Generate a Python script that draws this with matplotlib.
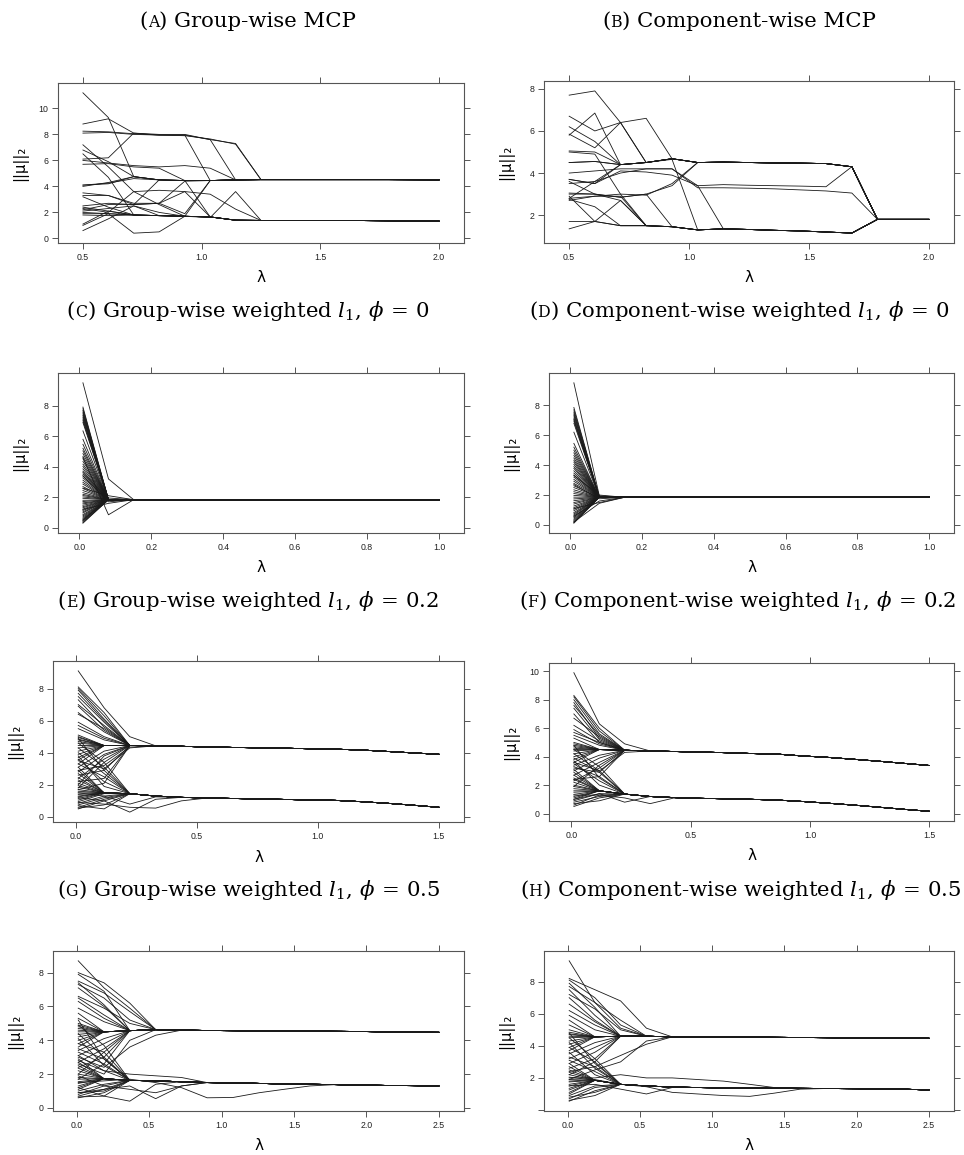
import matplotlib
matplotlib.use("Agg")
import matplotlib.pyplot as plt
import matplotlib.ticker as mticker

plt.rcParams['mathtext.fontset'] = 'dejavuserif'

# lambda grids
lam_A = [0.5, 0.607, 0.714, 0.821, 0.929, 1.036, 1.143, 1.25, 1.357, 1.464, 1.571, 1.679, 1.786, 1.893, 2.0]
lam_C = [0.01, 0.081, 0.151, 0.222, 0.293, 0.364, 0.434, 0.505, 0.576, 0.646, 0.717, 0.788, 0.859, 0.929, 1.0]
lam_E = [0.01, 0.117, 0.223, 0.33, 0.436, 0.543, 0.649, 0.756, 0.862, 0.969, 1.075, 1.181, 1.288, 1.394, 1.5]
lam_G = [0.01, 0.188, 0.366, 0.545, 0.723, 0.9, 1.08, 1.26, 1.43, 1.61, 1.79, 1.97, 2.14, 2.32, 2.5]

# (A) group-wise MCP: two trunks, each path = own head + rest of trunk
trunk_hi_A = [4.0, 4.3, 4.75, 4.5, 4.45, 4.45, 4.5, 4.52, 4.52, 4.52, 4.52, 4.52, 4.52, 4.51, 4.5]
trunk_lo_A = [1.9, 1.85, 1.8, 1.75, 1.7, 1.65, 1.4, 1.38, 1.38, 1.37, 1.37, 1.37, 1.35, 1.33, 1.33]
heads_hi_A = [[4.0], [4.1, 4.2], [11.2, 9.3], [8.8, 9.2, 8.1, 8.0, 8.0, 7.6],
              [8.25, 8.2, 8.05, 7.95, 7.95], [8.1, 8.15, 8.0, 7.95, 7.95, 7.6, 7.3],
              [6.1, 6.2, 8.1, 7.95, 7.9, 7.65, 7.25], [6.0, 5.8, 5.6, 5.5, 5.6, 5.4],
              [5.7, 5.75, 5.5, 5.4], [3.3, 3.3, 2.6], [6.8, 5.9],
              [1.9, 1.9, 1.8, 1.75, 1.7], [2.2, 2.6, 2.6, 2.7, 1.9], [3.5, 3.3, 2.7, 2.7, 4.4]]
heads_lo_A = [[2.0, 1.9], [1.0, 1.9, 0.4, 0.5, 1.7], [0.6, 1.5, 2.5], [2.3, 2.0, 3.6, 3.7, 3.6],
              [1.8, 1.75, 1.8, 1.75, 1.7, 1.6, 3.6], [7.2, 5.5, 3.6, 2.6], [6.5, 4.7],
              [3.2, 2.4], [4.1, 4.25, 4.6, 4.5, 4.45], [2.5, 2.7, 2.6, 2.7, 3.6, 3.4, 2.25],
              [2.1, 2.3, 2.5, 2.0], [2.4, 2.1], [1.1, 2.1]]

# (B) component-wise MCP
trunk_hi_B = [4.5, 4.55, 4.4, 4.5, 4.68, 4.5, 4.52, 4.5, 4.48, 4.47, 4.45, 4.3, 1.8, 1.8, 1.8]
trunk_lo_B = [1.7, 1.7, 1.5, 1.5, 1.45, 1.3, 1.35, 1.32, 1.28, 1.25, 1.2, 1.15, 1.8, 1.8, 1.8]
heads_hi_B = [[4.5], [6.7, 6.0, 6.4, 6.6], [7.7, 7.9, 6.4], [5.8, 6.85], [5.85, 5.2, 6.4],
              [6.2, 5.5], [5.05, 5.0], [3.7, 3.5], [3.0, 3.0, 2.85, 3.0, 3.4],
              [3.7, 3.5, 4.1, 4.05, 3.9, 3.4, 3.45, 3.42, 3.4, 3.38, 3.35, 4.3],
              [3.5, 3.6, 4.0, 4.2, 4.2, 3.3, 3.3, 3.28, 3.25, 3.2, 3.15, 3.05],
              [2.8, 3.6], [2.7, 2.9, 3.0, 2.95, 3.5]]
heads_lo_B = [[1.7], [2.8, 2.9, 2.9], [2.75, 2.4], [2.9, 1.7], [1.35, 1.7, 2.7], [3.6, 3.0, 2.7],
              [4.5, 4.55, 4.4, 4.5, 4.65], [3.05, 3.0, 2.85, 3.0], [4.0, 4.1, 4.2, 4.2, 4.2, 3.4],
              [5.0, 4.9, 3.0]]

# (C) / (D) weighted l1, phi = 0: single trunk
trunk_C = [1.84, 1.84, 1.84, 1.84, 1.84, 1.84, 1.84, 1.84, 1.84, 1.84, 1.84, 1.84, 1.84, 1.84, 1.84]
starts_C = [0.3, 0.34, 0.41, 0.47, 0.55, 0.62, 0.7, 0.78, 0.86, 0.97, 1.04, 1.13, 1.22, 1.31, 1.38,
            1.47, 1.56, 1.63, 1.72, 1.8, 1.93, 2.02, 2.11, 2.19, 2.3, 2.44, 2.57, 2.7, 2.86, 2.98,
            3.12, 3.27, 3.4, 3.52, 3.63, 3.71, 3.86, 4.02, 4.17, 4.35, 4.52, 4.68, 4.86, 5.04, 5.21,
            5.47, 5.8, 6.35, 6.9, 7.02, 7.13, 7.25, 7.36, 7.47, 7.58, 7.69, 7.8, 7.91]
heads_C = [[9.5, 3.2], [4.6, 0.85], [2.6, 2.1], [1.2, 1.6], [3.4, 1.7], [0.5, 1.95]]

trunk_D = [1.85, 1.85, 1.85, 1.85, 1.85, 1.85, 1.85, 1.85, 1.85, 1.85, 1.85, 1.85, 1.85, 1.85, 1.85]
starts_D = [0.12, 0.16, 0.22, 0.3, 0.38, 0.47, 0.55, 0.66, 0.74, 0.83, 0.95, 1.05, 1.16, 1.27, 1.4,
            1.5, 1.62, 1.74, 1.86, 1.98, 2.1, 2.22, 2.35, 2.5, 2.62, 2.78, 2.92, 3.05, 3.2, 3.34,
            3.47, 3.62, 3.78, 3.9, 4.05, 4.2, 4.33, 4.48, 4.65, 4.82, 5.0, 5.2, 5.45, 6.2, 6.8,
            6.95, 7.05, 7.15, 7.3, 7.42, 7.55, 7.7, 7.85]
heads_D = [[9.5, 1.95], [0.2, 1.45], [0.6, 1.6], [3.3, 2.0], [2.7, 1.75], [1.1, 1.5]]

# (E) group-wise weighted l1, phi = 0.2
trunk_hi_E = [4.5, 4.45, 4.45, 4.43, 4.4, 4.36, 4.33, 4.31, 4.28, 4.25, 4.22, 4.17, 4.08, 3.99, 3.9]
trunk_lo_E = [1.5, 1.5, 1.45, 1.3, 1.22, 1.18, 1.15, 1.12, 1.09, 1.06, 1.03, 0.95, 0.85, 0.73, 0.6]
heads_hi_E = [[9.1, 6.8, 5.0], [8.1, 6.5], [8.0, 6.3], [7.9, 6.1], [7.7, 6.0], [7.5, 5.9], [7.3, 5.6],
              [7.0, 5.7], [6.9, 5.4], [6.5, 5.3], [6.4, 5.5], [5.9, 5.0], [5.7, 4.9], [5.5, 4.8],
              [5.1], [5.0], [4.95], [4.85], [4.8], [4.7], [4.6], [4.45], [4.3], [4.1], [3.9], [3.7],
              [3.55], [3.3], [3.1, 4.1], [2.8, 3.9], [2.4, 3.6], [2.0, 3.8], [1.8, 3.4], [2.6, 2.9],
              [2.2, 2.4], [1.7, 2.1], [3.5, 3.0, 4.3], [2.9, 3.2, 4.35]]
heads_lo_E = [[0.5, 1.0], [0.55, 0.75], [0.6, 1.1], [0.7, 0.5], [0.75, 1.2], [0.85, 1.3], [0.95, 1.45],
              [1.05], [1.15], [1.25], [1.3], [1.4], [1.5], [1.6], [1.7], [1.85], [1.95], [2.1], [2.3],
              [2.45], [2.7], [2.9], [3.1], [3.3, 2.5], [3.6, 2.2], [3.8, 1.9], [4.0, 2.7], [4.3, 3.1],
              [4.6, 3.4], [4.9, 2.9], [1.2, 1.0, 0.3, 1.1], [0.9, 0.8, 0.6, 0.55, 1.0], [1.5, 1.3, 0.8, 1.25]]

# (F) component-wise weighted l1, phi = 0.2
trunk_hi_F = [4.6, 4.5, 4.45, 4.4, 4.36, 4.32, 4.28, 4.22, 4.18, 4.05, 3.95, 3.82, 3.68, 3.53, 3.38]
trunk_lo_F = [1.6, 1.6, 1.37, 1.2, 1.12, 1.07, 1.04, 1.0, 0.95, 0.85, 0.73, 0.6, 0.45, 0.3, 0.16]
heads_hi_F = [[9.9, 6.3, 4.9], [8.3, 6.0], [8.2, 5.8], [8.0, 5.6], [7.8, 5.3], [7.6, 5.5], [7.4, 5.2],
              [7.0, 5.0], [6.7, 5.4], [6.2, 5.1], [5.9, 4.9], [5.7, 5.0], [5.5, 4.8], [5.3], [5.0],
              [4.9], [4.8], [4.7], [4.6], [4.5], [4.4], [4.2], [4.0], [3.8], [3.6], [3.4, 4.1],
              [3.0, 3.9], [2.7, 3.6], [2.3, 3.2], [1.9, 3.4], [3.2, 2.9], [2.4, 2.6], [3.6, 3.0, 4.3]]
heads_lo_F = [[0.5, 1.1], [0.6, 1.3], [0.7, 0.9], [0.8, 1.2], [0.9, 1.4], [1.0], [1.1], [1.2], [1.35],
              [1.5], [1.6], [1.75], [1.9], [2.0], [2.2], [2.4], [2.5], [2.7], [2.9], [3.1],
              [3.3, 2.6], [3.5, 2.3], [3.7, 2.0], [3.9, 2.9], [4.2, 3.0], [4.5, 3.3], [4.8, 2.5],
              [1.3, 1.3, 1.1, 0.7], [1.0, 1.4, 0.8]]

# (G) group-wise weighted l1, phi = 0.5
trunk_hi_G = [4.5, 4.5, 4.57, 4.63, 4.6, 4.58, 4.57, 4.56, 4.55, 4.54, 4.53, 4.52, 4.5, 4.48, 4.47]
trunk_lo_G = [1.7, 1.73, 1.63, 1.6, 1.55, 1.5, 1.48, 1.45, 1.42, 1.4, 1.38, 1.35, 1.33, 1.32, 1.3]
heads_hi_G = [[8.7, 7.1, 5.9], [8.0, 7.4, 6.2], [7.9, 6.9], [7.5, 6.8, 5.7], [7.4, 6.1], [7.3, 6.5, 5.2],
              [7.1, 6.0], [6.6, 5.9, 5.0], [6.5, 5.5], [6.3, 5.3], [5.9, 5.1], [5.6], [5.3], [5.0],
              [4.9], [4.8], [4.7], [4.6], [4.5], [4.35], [4.2], [4.0], [3.8], [3.6], [3.4, 4.1],
              [3.1, 3.8], [2.7, 3.5], [2.4, 3.0], [2.0, 3.3], [1.7, 2.6], [3.0, 2.4, 3.6, 4.3],
              [2.6, 2.0, 4.0]]
heads_lo_G = [[0.6, 0.9], [0.65, 0.7], [0.7, 1.1], [0.8, 1.3], [0.9, 1.0], [1.0, 1.4], [1.1], [1.2],
              [1.3], [1.45], [1.55], [1.7], [1.8], [2.0], [2.2], [2.35], [2.5], [2.7], [2.9],
              [3.1, 2.2], [3.3, 2.6], [3.5, 2.9], [3.8, 3.3], [4.1, 2.5], [4.4, 3.0], [4.9, 3.7],
              [5.2, 2.9], [1.2, 0.7, 0.4, 1.4], [0.9, 1.1, 1.3, 0.55, 1.3], [2.8, 2.2, 2.0, 1.9, 1.8],
              [1.5, 1.6, 1.7, 1.5, 1.2, 0.6, 0.62, 0.9, 1.1, 1.3], [1.9, 1.3, 1.1, 0.9, 1.3]]

# (H) component-wise weighted l1, phi = 0.5
trunk_hi_H = [4.6, 4.56, 4.6, 4.6, 4.56, 4.55, 4.55, 4.54, 4.53, 4.52, 4.51, 4.5, 4.49, 4.48, 4.47]
trunk_lo_H = [1.7, 1.85, 1.6, 1.5, 1.43, 1.4, 1.38, 1.37, 1.36, 1.35, 1.34, 1.33, 1.32, 1.3, 1.25]
heads_hi_H = [[9.3, 6.7, 5.1], [8.2, 7.5, 6.8, 5.1], [8.1, 7.0, 5.3], [7.9, 6.4], [7.7, 6.7, 5.6],
              [7.5, 5.9], [7.2, 6.3, 5.0], [7.0, 5.6], [6.6, 5.5], [6.2, 5.3], [5.9, 5.0], [5.6],
              [5.3], [5.0], [4.85], [4.75], [4.7], [4.6], [4.5], [4.3], [4.1], [3.9], [3.7],
              [3.5, 4.2], [3.2, 3.9], [2.9, 3.6], [2.6, 3.2], [2.2, 3.0], [2.4, 2.7, 3.4, 4.1],
              [1.9, 2.5, 3.0, 4.3]]
heads_lo_H = [[0.55, 1.2], [0.6, 0.9], [0.7, 1.4], [0.8, 1.1], [0.9, 1.5], [1.0], [1.1], [1.25], [1.35],
              [1.5], [1.6], [1.75], [1.9], [2.05], [2.2], [2.35], [2.5], [2.7], [2.9], [3.1, 2.4],
              [3.3, 2.7], [3.6, 2.2], [3.9, 3.0], [4.2, 2.6], [4.5, 3.2], [4.8, 2.9],
              [2.0, 2.0, 2.2, 2.0, 2.0, 1.9, 1.8, 1.6, 1.4], [1.5, 1.6, 1.3, 1.0, 1.4],
              [1.8, 1.9, 1.6, 1.45, 1.1, 1.0, 0.9, 0.85, 1.05, 1.3]]

titles = [("A", ") Group-wise MCP"),
          ("B", ") Component-wise MCP"),
          ("C", r") Group-wise weighted $l_1$, $\phi\,=\,0$"),
          ("D", r") Component-wise weighted $l_1$, $\phi\,=\,0$"),
          ("E", r") Group-wise weighted $l_1$, $\phi\,=\,0.2$"),
          ("F", r") Component-wise weighted $l_1$, $\phi\,=\,0.2$"),
          ("G", r") Group-wise weighted $l_1$, $\phi\,=\,0.5$"),
          ("H", r") Component-wise weighted $l_1$, $\phi\,=\,0.5$")]

W, H = 964, 1155
fig = plt.figure(figsize=(W / 100, H / 100), dpi=100)
renderer = fig.canvas.get_renderer()
FRAME = '#555555'


def to_fig(l, t, r, b):
    return [l / W, 1 - b / H, (r - l) / W, (b - t) / H]


def draw_title(cx, base, letter, rest):
    # "(" + small-cap letter + ") ..." laid out piece by piece
    pieces = [('(', 15.3), (letter, 11.3), (rest, 15.3)]
    txts = [fig.text(0, 1 - base / H, s, fontsize=fs, family='DejaVu Serif', va='baseline')
            for s, fs in pieces]
    widths = [t.get_window_extent(renderer).width for t in txts]
    x = cx - sum(widths) / 2
    for t, w in zip(txts, widths):
        t.set_x(x / W)
        x += w


def panel(rect, lam, paths, xticks, yticks, ylab=None):
    ax = fig.add_axes(to_fig(*rect))
    for p in paths:
        ax.plot(lam, p, color='#1a1a1a', lw=0.6)
    allv = [v for p in paths for v in p]
    lo, hi = min(allv), max(allv)
    pad = 0.07 * (hi - lo)
    ax.set_ylim(lo - pad, hi + pad)
    xpad = 0.07 * (lam[-1] - lam[0])
    ax.set_xlim(lam[0] - xpad, lam[-1] + xpad)
    ax.set_xticks(xticks)
    ax.set_yticks(yticks)
    ax.xaxis.set_major_formatter(mticker.FormatStrFormatter('%.1f'))
    if ylab is None:
        ax.yaxis.set_major_formatter(mticker.FormatStrFormatter('%d'))
    else:
        ax.set_yticklabels(ylab)
    ax.tick_params(direction='out', length=4.5, width=0.7, color=FRAME, pad=2.5,
                   labelsize=6.3, labelcolor='#222222', top=True, right=True)
    for lab in ax.get_xticklabels() + ax.get_yticklabels():
        lab.set_family('Liberation Sans')
    for s in ax.spines.values():
        s.set_color(FRAME)
        s.set_linewidth(0.8)
    l, t, r, b = rect
    fig.text(((l + r) / 2) / W, 1 - (b + 35) / H, 'λ', fontsize=11, ha='center', va='center')
    fig.text((l - 38) / W, 1 - ((t + b) / 2) / H, '||μ||₂', fontsize=10.5, rotation=90,
             ha='center', va='center')
    return ax


def build(heads, trunk):
    return [h + trunk[len(h):] for h in heads]


paths_A = build(heads_hi_A, trunk_hi_A) + build(heads_lo_A, trunk_lo_A)
paths_B = build(heads_hi_B, trunk_hi_B) + build(heads_lo_B, trunk_lo_B)
paths_C = build([[s] for s in starts_C] + heads_C, trunk_C)
paths_D = build([[s] for s in starts_D] + heads_D, trunk_D)
paths_E = build(heads_hi_E, trunk_hi_E) + build(heads_lo_E, trunk_lo_E)
paths_F = build(heads_hi_F, trunk_hi_F) + build(heads_lo_F, trunk_lo_F)
paths_G = build(heads_hi_G, trunk_hi_G) + build(heads_lo_G, trunk_lo_G)
paths_H = build(heads_hi_H, trunk_hi_H) + build(heads_lo_H, trunk_lo_H)

x_ab = [0.5, 1.0, 1.5, 2.0]
x_cd = [0.0, 0.2, 0.4, 0.6, 0.8, 1.0]
x_ef = [0.0, 0.5, 1.0, 1.5]
x_gh = [0.0, 0.5, 1.0, 1.5, 2.0, 2.5]

panel((58, 83, 464, 243), lam_A, paths_A, x_ab, [0, 2, 4, 6, 8, 10])
panel((544, 81, 954, 243), lam_A, paths_B, x_ab, [2, 4, 6, 8])
panel((58, 373, 464, 533), lam_C, paths_C, x_cd, [0, 2, 4, 6, 8])
panel((549, 373, 954, 533), lam_C, paths_D, x_cd, [0, 2, 4, 6, 8])
panel((53, 661, 464, 822), lam_E, paths_E, x_ef, [0, 2, 4, 6, 8])
panel((549, 663, 954, 821), lam_E, paths_F, x_ef, [0, 2, 4, 6, 8, 10])
panel((53, 951, 464, 1111), lam_G, paths_G, x_gh, [0, 2, 4, 6, 8])
panel((544, 951, 954, 1111), lam_G, paths_H, x_gh, [0, 2, 4, 6, 8], ['', '2', '4', '6', '8'])

title_pos = [(248, 27), (739, 27), (248, 317), (739, 317),
             (248, 607), (738, 607), (249, 896), (741, 896)]
for (cx, base), (letter, rest) in zip(title_pos, titles):
    draw_title(cx, base, letter, rest)

fig.savefig('out.png', dpi=100)
